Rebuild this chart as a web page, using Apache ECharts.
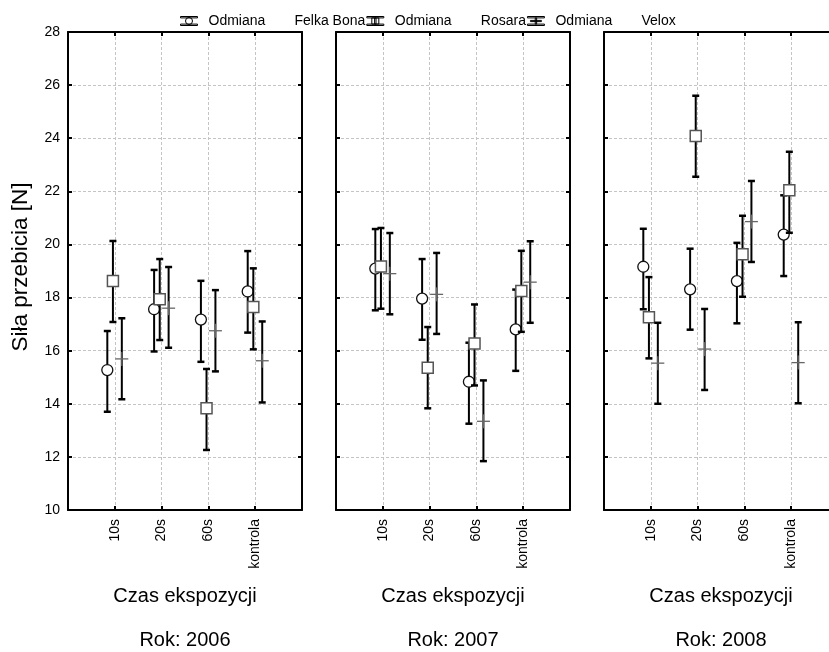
<!DOCTYPE html>
<html>
<head>
<meta charset="utf-8">
<script src="https://cdn.jsdelivr.net/npm/echarts@6/dist/echarts.min.js"></script>
<style>html,body{margin:0;padding:0;background:#fff;}#c{width:829px;height:652px;}</style>
</head>
<body>
<div id="c"></div>
<script>
const categories = ['10s', '20s', '60s', 'kontrola'];
const years = ['2006', '2007', '2008'];
const varieties = ['Odmiana Felka Bona', 'Odmiana Rosara', 'Odmiana Velox'];
const yTicks = [10, 12, 14, 16, 18, 20, 22, 24, 26, 28];

// 2006
const felka2006 = [15.27, 17.56, 17.17, 18.23];
const felka2006Lo = [13.70, 15.97, 15.58, 16.68];
const felka2006Hi = [16.74, 19.04, 18.63, 19.75];
const rosara2006 = [18.62, 17.94, 13.83, 17.64];
const rosara2006Lo = [17.08, 16.40, 12.26, 16.05];
const rosara2006Hi = [20.13, 19.45, 15.31, 19.10];
const velox2006 = [15.69, 17.60, 16.75, 15.62];
const velox2006Lo = [14.17, 16.11, 15.22, 14.05];
const velox2006Hi = [17.22, 19.15, 18.28, 17.10];
// 2007
const felka2007 = [19.09, 17.96, 14.83, 16.80];
const felka2007Lo = [17.52, 16.41, 13.25, 15.24];
const felka2007Hi = [20.58, 19.45, 16.30, 18.30];
const rosara2007 = [19.17, 15.36, 16.27, 18.25];
const rosara2007Lo = [17.58, 13.83, 14.69, 16.71];
const rosara2007Hi = [20.62, 16.89, 17.74, 19.76];
const velox2007 = [18.90, 18.12, 13.34, 18.58];
const velox2007Lo = [17.37, 16.63, 11.84, 17.05];
const velox2007Hi = [20.43, 19.68, 14.88, 20.12];
// 2008
const felka2008 = [19.16, 18.31, 18.62, 20.37];
const felka2008Lo = [17.56, 16.79, 17.03, 18.81];
const felka2008Hi = [20.59, 19.84, 20.06, 21.85];
const rosara2008 = [17.26, 24.08, 19.63, 22.04];
const rosara2008Lo = [15.71, 22.55, 18.03, 20.44];
const rosara2008Hi = [18.77, 25.60, 21.08, 23.49];
const velox2008 = [15.53, 16.06, 20.86, 15.55];
const velox2008Lo = [14.00, 14.52, 19.34, 14.02];
const velox2008Hi = [17.05, 17.57, 22.39, 17.07];

const panels = [
  [[felka2006, felka2006Lo, felka2006Hi], [rosara2006, rosara2006Lo, rosara2006Hi], [velox2006, velox2006Lo, velox2006Hi]],
  [[felka2007, felka2007Lo, felka2007Hi], [rosara2007, rosara2007Lo, rosara2007Hi], [velox2007, velox2007Lo, velox2007Hi]],
  [[felka2008, felka2008Lo, felka2008Hi], [rosara2008, rosara2008Lo, rosara2008Hi], [velox2008, velox2008Lo, velox2008Hi]]
];

// layout / style
const FONT = "'Liberation Sans', Arial, sans-serif";
const gridLefts = [68, 336, 604];
const gridTop = 32, gridW = 234, gridH = 478;
const xOffsets = [-0.16, -0.04, 0.15];

function makeRender(kind) {
  return function (params, api) {
    const x = api.value(0), m = api.value(1), lo = api.value(2), hi = api.value(3);
    const pT = api.coord([x, hi]);
    const pB = api.coord([x, lo]);
    const pM = api.coord([x, m]);
    const cap = 3.5;
    const children = [
      { type: 'line', shape: { x1: pT[0], y1: pT[1], x2: pB[0], y2: pB[1] }, style: { stroke: '#000', lineWidth: 2 } },
      { type: 'line', shape: { x1: pT[0] - cap, y1: pT[1], x2: pT[0] + cap, y2: pT[1] }, style: { stroke: '#000', lineWidth: 2.5 } },
      { type: 'line', shape: { x1: pB[0] - cap, y1: pB[1], x2: pB[0] + cap, y2: pB[1] }, style: { stroke: '#000', lineWidth: 2.5 } }
    ];
    if (kind === 0) {
      children.push({ type: 'circle', shape: { cx: pM[0], cy: pM[1], r: 5.5 }, style: { fill: '#fff', stroke: '#111', lineWidth: 1.3 } });
    } else if (kind === 1) {
      children.push({ type: 'rect', shape: { x: pM[0] - 5.5, y: pM[1] - 5.5, width: 11, height: 11 }, style: { fill: '#fff', stroke: '#555', lineWidth: 1.5 } });
    } else {
      children.push({ type: 'line', shape: { x1: pM[0] - 6.5, y1: pM[1], x2: pM[0] + 6.5, y2: pM[1] }, style: { stroke: '#666', lineWidth: 1.3 } });
      children.push({ type: 'line', shape: { x1: pM[0], y1: pM[1] - 7, x2: pM[0], y2: pM[1] + 7 }, style: { stroke: '#666', lineWidth: 1.3 } });
    }
    return { type: 'group', children: children };
  };
}

const grids = [], xAxes = [], yAxes = [], series = [], graphics = [];
const axisLine = { show: true, onZero: false, lineStyle: { color: '#000', width: 2 } };
const tickIn = { show: true, inside: true, length: 4, lineStyle: { color: '#000', width: 2 } };
const dashed = { show: true, lineStyle: { color: '#c4c4c4', type: [3, 2], width: 1 } };

years.forEach(function (yr, g) {
  grids.push({ left: gridLefts[g], top: gridTop, width: gridW, height: gridH, outerBoundsMode: 'none', containLabel: false });
  xAxes.push({
    type: 'value', gridIndex: g, position: 'bottom', min: 0, max: categories.length + 1, interval: 1,
    axisLine: axisLine, axisTick: tickIn, splitLine: dashed,
    axisLabel: { rotate: 90, margin: 9, fontSize: 14, color: '#000', fontFamily: FONT,
      formatter: function (v) { return categories[v - 1] || ''; } },
    name: 'Czas ekspozycji', nameLocation: 'middle', nameGap: 76,
    nameTextStyle: { fontSize: 20, color: '#000', fontFamily: FONT }
  });
  xAxes.push({
    type: 'value', gridIndex: g, position: 'top', min: 0, max: categories.length + 1, interval: 1,
    axisLine: axisLine, axisTick: tickIn, splitLine: { show: false }, axisLabel: { show: false }
  });
  yAxes.push({
    type: 'value', gridIndex: g, position: 'left', min: yTicks[0], max: yTicks[yTicks.length - 1], interval: 2,
    axisLine: axisLine, axisTick: tickIn, splitLine: dashed,
    axisLabel: { show: g === 0, margin: 8, fontSize: 14, color: '#000', fontFamily: FONT },
    name: g === 0 ? 'Siła przebicia [N]' : '', nameLocation: 'middle', nameGap: 36,
    nameTextStyle: { fontSize: 22.5, color: '#000', fontFamily: FONT, padding: [0, 0, 0, 8] }
  });
  yAxes.push({
    type: 'value', gridIndex: g, position: 'right', min: yTicks[0], max: yTicks[yTicks.length - 1], interval: 2,
    axisLine: axisLine, axisTick: tickIn, splitLine: { show: false }, axisLabel: { show: false }
  });
  panels[g].forEach(function (vv, v) {
    const mean = vv[0], lo = vv[1], hi = vv[2];
    series.push({
      type: 'custom', name: varieties[v], xAxisIndex: 2 * g, yAxisIndex: 2 * g,
      renderItem: makeRender(v), encode: { x: 0, y: [1, 2, 3] },
      data: categories.map(function (c, i) { return [i + 1 + xOffsets[v], mean[i], lo[i], hi[i]]; }),
      z: 3 + v, silent: true
    });
  });
  graphics.push({
    type: 'text', x: gridLefts[g] + gridW / 2, y: 640,
    style: { text: 'Rok: ' + yr, font: '20px ' + FONT, fill: '#000', align: 'center', verticalAlign: 'middle', textAlign: 'center', textVerticalAlign: 'middle' }
  });
});

const legendIcons = [
  'path://M0,0H17V1.4H0Z M0,7.6H17V9H0Z M5,4.5A3.5,3.5 0 1,0 12,4.5A3.5,3.5 0 1,0 5,4.5Z',
  'path://M0,0H17V1.4H0Z M0,7.6H17V9H0Z M7.8,1.4H9.2V7.6H7.8Z M5,1.4H12V7.6H5Z',
  'path://M0,0H17V1.4H0Z M0,7.6H17V9H0Z M7.8,1.4H9.2V7.6H7.8Z M3,3.9H14V5.1H3Z'
];

const option = {
  animation: false,
  backgroundColor: '#fff',
  textStyle: { fontFamily: FONT },
  legend: {
    left: 180, top: 14, itemWidth: 17, itemHeight: 9, itemGap: 1, selectedMode: false, padding: 0,
    data: varieties.map(function (n, i) {
      return { name: n, icon: legendIcons[i], itemStyle: { color: '#fff', borderColor: '#000', borderWidth: 1 } };
    }),
    formatter: function (name) {
      const parts = name.split(' ');
      return '{a|' + parts[0] + '}{b|' + parts.slice(1).join(' ') + '}';
    },
    textStyle: {
      fontSize: 14, color: '#000', fontFamily: FONT,
      rich: { a: { width: 86, padding: [0, 0, 0, 6], fontSize: 14, fontFamily: FONT }, b: { fontSize: 14, fontFamily: FONT } }
    }
  },
  grid: grids,
  xAxis: xAxes,
  yAxis: yAxes,
  series: series,
  graphic: graphics
};

const chart = echarts.init(document.getElementById('c'), null, { renderer: 'canvas' });
chart.setOption(option);
</script>
</body>
</html>
